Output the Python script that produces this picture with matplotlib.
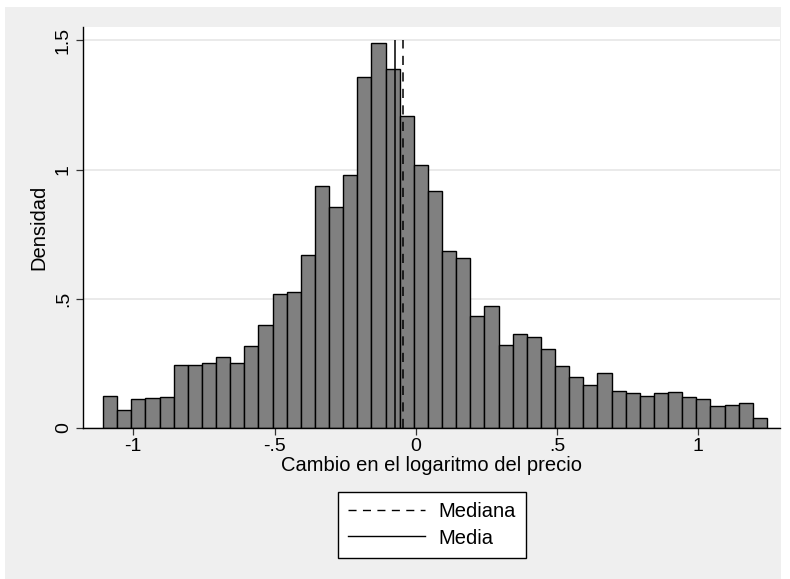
import matplotlib
matplotlib.use("Agg")
import matplotlib.pyplot as plt
from matplotlib.patches import Rectangle
from matplotlib.lines import Line2D
import numpy as np

plt.rcParams['font.family'] = ['Liberation Sans', 'DejaVu Sans']

# ---- data ----
bin_start = -1.107
bin_width = 0.05
densities = [0.123, 0.070, 0.111, 0.115, 0.119, 0.243, 0.243, 0.252, 0.276, 0.252,
             0.316, 0.400, 0.519, 0.528, 0.668, 0.938, 0.855, 0.979, 1.359, 1.491,
             1.389, 1.209, 1.018, 0.916, 0.686, 0.656, 0.435, 0.473, 0.320, 0.362,
             0.354, 0.304, 0.239, 0.196, 0.167, 0.212, 0.142, 0.137, 0.124, 0.136,
             0.141, 0.120, 0.111, 0.086, 0.090, 0.098, 0.039]
mediana = -0.044
media = -0.074
line_top = 1.5
xticks = [-1, -0.5, 0, 0.5, 1]
xtick_labels = ["-1", "-.5", "0", ".5", "1"]
yticks = [0, 0.5, 1, 1.5]
ytick_labels = ["0", ".5", "1", "1.5"]
xlabel = "Cambio en el logaritmo del precio"
ylabel = "Densidad"
legend_labels = ["Mediana", "Media"]

W, H = 790, 579
fig = plt.figure(figsize=(W / 100, H / 100), dpi=100, facecolor='white')
bg = Rectangle((5 / W, 0), (781 - 5) / W, 1 - 7 / H, transform=fig.transFigure,
               facecolor='#efefef', edgecolor='none', zorder=-10)
fig.patches.append(bg)

ax = fig.add_axes([83 / W, 1 - 428 / H, (780 - 83) / W, (428 - 27) / H])
ax.set_facecolor('white')

lefts = bin_start + bin_width * np.arange(len(densities))
ax.bar(lefts, densities, width=bin_width, align='edge', color='#808080',
       edgecolor='black', linewidth=1.0, zorder=2)

ax.vlines([mediana], 0, line_top, colors='black', linewidth=1.1,
          linestyles=(0, (6, 4.8)), zorder=3)
ax.vlines([media], 0, line_top, colors='black', linewidth=1.1, zorder=3)

ax.set_xlim(-1.178, 1.289)
ax.set_ylim(0, 1.5516)
ax.set_xticks(xticks)
ax.set_xticklabels(xtick_labels)
ax.set_yticks(yticks)
ax.set_yticklabels(ytick_labels, rotation=90, va='center')
ax.yaxis.grid(True, color='#e6e6e6', linewidth=1.2, zorder=0)
ax.set_axisbelow(True)
for s in ['top', 'right']:
    ax.spines[s].set_visible(False)
for s in ['left', 'bottom']:
    ax.spines[s].set_linewidth(1.0)
    ax.spines[s].set_color('black')
ax.tick_params(axis='both', direction='out', length=5, width=0.9, labelsize=14,
               color='#333333')
ax.tick_params(axis='x', pad=2)
ax.tick_params(axis='y', pad=3)
ax.set_xlabel(xlabel, fontsize=14.5, labelpad=1)
ax.set_ylabel(ylabel, fontsize=14.5, labelpad=5)

handles = [Line2D([], [], color='black', linewidth=1.0, linestyle=(0, (5.8, 4.6))),
           Line2D([], [], color='black', linewidth=1.0)]
leg = fig.legend(handles, legend_labels, loc='center', bbox_to_anchor=(432 / W, 1 - 525 / H),
                 fontsize=14.5, frameon=True, fancybox=False, handlelength=3.8,
                 handletextpad=0.7, borderpad=0.5, labelspacing=0.35,
                 borderaxespad=0)
leg.get_frame().set_edgecolor('black')
leg.get_frame().set_linewidth(1.0)
leg.get_frame().set_facecolor('white')
leg.get_frame().set_alpha(1)

fig.savefig('out.png', dpi=100, facecolor='white')
